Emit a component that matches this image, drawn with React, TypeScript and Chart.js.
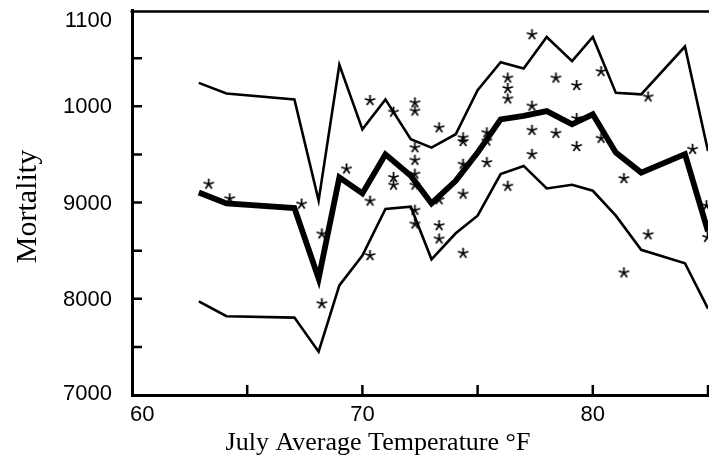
import React, { useEffect, useRef } from "react";
import { Chart, registerables } from "chart.js";
Chart.register(...registerables);

// ---- data ----
const lineTemps = [62.9, 64.1, 67.05, 68.1, 69, 70, 71, 72.1, 73, 74.05, 75, 76, 77, 78, 79.1, 80, 81, 82.1, 84, 85];
const upperBand = [10243, 10133, 10071, 9020, 10430, 9760, 10071, 9657, 9570, 9709, 10167, 10457, 10392, 10720, 10468, 10720, 10139, 10123, 10620, 9536];
const fittedMortality = [9104, 8990, 8943, 8210, 9260, 9094, 9500, 9277, 8990, 9225, 9518, 9864, 9900, 9950, 9812, 9916, 9518, 9311, 9502, 8700];
const lowerBand = [7973, 7818, 7804, 7450, 8139, 8449, 8932, 8956, 8410, 8680, 8863, 9295, 9380, 9146, 9184, 9122, 8863, 8508, 8369, 7897];

const starTemps = [
  63.33, 64.24, 67.36, 68.24, 68.24, 69.31, 70.33, 70.33, 70.33, 71.35, 71.35, 71.35,
  72.28, 72.28, 72.28, 72.28, 72.28, 72.28, 72.28, 72.28, 73.33, 73.33, 73.33, 73.33,
  74.37, 74.37, 74.37, 74.37, 74.37, 75.4, 75.4, 75.4, 76.31, 76.31, 76.31, 76.31,
  77.36, 77.36, 77.36, 77.36, 78.4, 78.4, 79.3, 79.3, 79.3, 80.36, 80.36, 81.35, 81.35,
  82.4, 82.4, 84.33, 84.93, 84.98,
];
const starMortality = [
  9191, 9039, 8984, 8674, 7949, 9349, 10060, 9015, 8449, 9939, 9261, 9181,
  10036, 9950, 9570, 9439, 9295, 9181, 8920, 8777, 9777, 9029, 8760, 8622,
  9673, 9634, 9398, 9088, 8473, 9725, 9639, 9415, 10294, 10185, 10077, 9170,
  10744, 10002, 9750, 9500, 10294, 9719, 10216, 9874, 9582, 10361, 9667, 9249, 8270,
  10098, 8666, 9553, 8967, 8638,
];

const yLabelValues = [7000, 8000, 9000, 10000, 11000];
const yLabelTexts = ["7000", "8000", "9000", "1000", "1100"];
const yTickMarks = [7500, 8000, 8500, 9000, 9500, 10000, 10500];
const xLabelValues = [60, 70, 80];
const xLabelTexts = ["60", "70", "80"];
const xTickMarks = [65, 70, 75, 80, 85];
const xTitle = "July Average Temperature °F";
const yTitle = "Mortality";

function makeStar(): HTMLCanvasElement {
  const c = document.createElement("canvas");
  c.width = 13;
  c.height = 13;
  const g = c.getContext("2d")!;
  g.strokeStyle = "#000";
  g.lineWidth = 1.7;
  g.lineCap = "butt";
  const cx = 6.5, cy = 6.5, r = 5.5;
  g.beginPath();
  for (let k = 0; k < 5; k++) {
    const a = -Math.PI / 2 + (k * 2 * Math.PI) / 5;
    g.moveTo(cx, cy);
    g.lineTo(cx + r * Math.cos(a), cy + r * Math.sin(a));
  }
  g.stroke();
  return c;
}

const decor = {
  id: "decor",
  afterDraw(chart: any) {
    const ctx = chart.ctx as CanvasRenderingContext2D;
    const xs = chart.scales.x;
    const ys = chart.scales.y;
    const { left, right, top, bottom } = chart.chartArea;
    ctx.save();
    ctx.strokeStyle = "#000";
    ctx.fillStyle = "#000";
    // top frame line
    ctx.lineWidth = 2.5;
    ctx.beginPath();
    ctx.moveTo(left - 1.5, top + 1.5);
    ctx.lineTo(right + 10, top + 1.5);
    ctx.stroke();
    // inward tick marks
    ctx.lineWidth = 2.5;
    ctx.beginPath();
    for (const v of yTickMarks) {
      const py = ys.getPixelForValue(v);
      ctx.moveTo(left, py);
      ctx.lineTo(left + 10, py);
    }
    for (const v of xTickMarks) {
      const px = xs.getPixelForValue(v);
      ctx.moveTo(px, bottom);
      ctx.lineTo(px, bottom - 10);
    }
    ctx.stroke();
    // y labels
    ctx.font = "22px 'Liberation Sans', Arial, sans-serif";
    ctx.textAlign = "right";
    ctx.textBaseline = "middle";
    yLabelValues.forEach((v, i) => {
      let py = ys.getPixelForValue(v);
      py = Math.min(Math.max(py, top + 10), bottom - 2);
      ctx.fillText(yLabelTexts[i], left - 20, py + 1);
    });
    // x labels
    xLabelValues.forEach((v, i) => {
      const px = xs.getPixelForValue(v);
      ctx.textAlign = i === 0 ? "left" : "center";
      ctx.fillText(xLabelTexts[i], i === 0 ? px - 2 : px, bottom + 20);
    });
    // titles
    ctx.font = "26px 'Liberation Serif', 'Times New Roman', serif";
    ctx.textAlign = "center";
    ctx.textBaseline = "alphabetic";
    ctx.fillText(xTitle, 378, bottom + 55);
    ctx.save();
    ctx.font = "30px 'Liberation Serif', 'Times New Roman', serif";
    ctx.translate(36, (top + bottom) / 2 + 4);
    ctx.rotate(-Math.PI / 2);
    ctx.fillText(yTitle, 0, 0);
    ctx.restore();
    ctx.restore();
  },
};

export default function App() {
  const ref = useRef<HTMLCanvasElement | null>(null);
  useEffect(() => {
    document.body.style.margin = "0";
    const canvas = ref.current!;
    const star = makeStar();
    const pts = (ys: number[]) => lineTemps.map((x, i) => ({ x, y: ys[i] }));
    const chart = new Chart(canvas, {
      type: "scatter",
      data: {
        datasets: [
          {
            data: pts(upperBand),
            showLine: true,
            borderColor: "#000",
            borderWidth: 2.6,
            pointRadius: 0,
            tension: 0,
          } as any,
          {
            data: pts(lowerBand),
            showLine: true,
            borderColor: "#000",
            borderWidth: 2.6,
            pointRadius: 0,
            tension: 0,
          } as any,
          {
            data: pts(fittedMortality),
            showLine: true,
            borderColor: "#000",
            borderWidth: 5.8,
            pointRadius: 0,
            tension: 0,
          } as any,
          {
            data: starTemps.map((x, i) => ({ x, y: starMortality[i] })),
            showLine: false,
            pointStyle: star,
            pointRadius: 6,
            borderColor: "#000",
            backgroundColor: "#000",
          } as any,
        ],
      },
      options: {
        responsive: false,
        animation: false,
        layout: { padding: { left: 132, top: 10, right: 1, bottom: 80 } },
        plugins: { legend: { display: false }, tooltip: { enabled: false } },
        scales: {
          x: {
            type: "linear",
            min: 60,
            max: 85,
            ticks: { display: false },
            grid: { display: false, drawTicks: false },
            border: { display: true, color: "#000", width: 3 },
          },
          y: {
            type: "linear",
            min: 7000,
            max: 11000,
            ticks: { display: false },
            grid: { display: false, drawTicks: false },
            border: { display: true, color: "#000", width: 3 },
          },
        },
      },
      plugins: [decor],
    });
    return () => chart.destroy();
  }, []);
  return (
    <div style={{ width: 709, height: 475, overflow: "hidden", background: "#fff" }}>
      <canvas ref={ref} width={715} height={475} style={{ display: "block", width: 715, height: 475 }} />
    </div>
  );
}
